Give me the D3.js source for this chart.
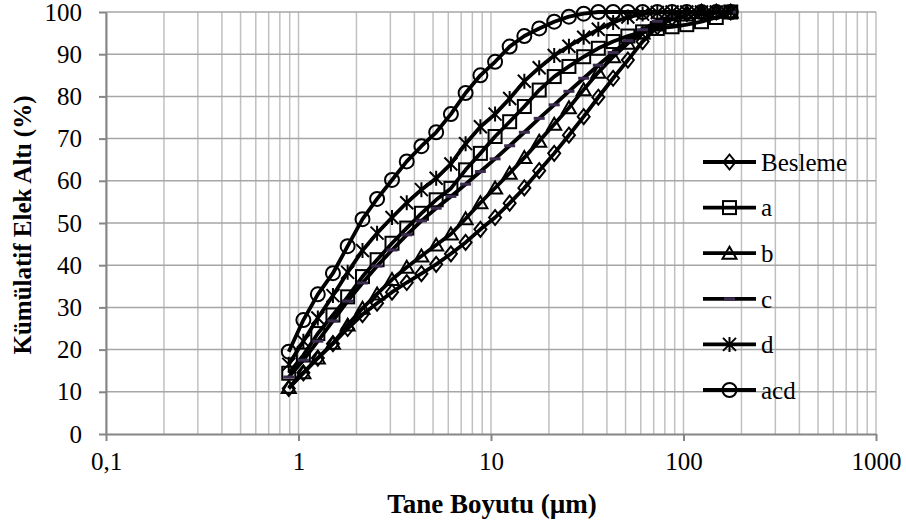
<!DOCTYPE html>
<html>
<head>
<meta charset="utf-8">
<script src="https://cdn.jsdelivr.net/npm/d3@7"></script>
<style>
  body { margin: 0; background: #fff; }
  text { font-family: "Times New Roman", "Liberation Serif", serif; fill: #000; }
</style>
</head>
<body>
<div id="chart"></div>
<script>
// particle sizes (µm) and cumulative passing (%) per sample
const sizes = [0.89, 1.06, 1.26, 1.51, 1.80, 2.15, 2.56, 3.06, 3.65, 4.35, 5.19, 6.19, 7.38, 8.81, 10.5, 12.5, 14.9, 17.8, 21.3, 25.4, 30.3, 36.1, 43.1, 51.4, 61.3, 73.1, 87.2, 104, 124, 148, 176];
const besleme = [10.8, 14.5, 18, 21.4, 25, 28.3, 31, 33.6, 35.9, 38, 40.2, 42.7, 45.4, 48.5, 51.3, 54.7, 58.3, 62.4, 66.5, 70.8, 75.2, 79.8, 84.3, 88.6, 93, 96.5, 98.6, 99.6, 100, 100, 100];
const a = [14.4, 18.7, 23.8, 28.2, 32.5, 37.3, 41.3, 45.2, 48.8, 52.3, 55.5, 58.2, 62.6, 66.5, 70.5, 74, 77.6, 81.5, 84.7, 87.1, 89.4, 91.4, 93, 94.3, 95.3, 96.1, 96.5, 97, 97.7, 98.7, 100];
const b = [11, 14.5, 18, 21.5, 25.8, 29.8, 33.2, 36.6, 39.5, 42.2, 44.8, 47.4, 51, 54.8, 58.3, 61.8, 65.5, 69.4, 73.4, 77.3, 81.6, 85.7, 89.4, 92.6, 95, 96.9, 98.3, 99.3, 99.8, 100, 100];
const c = [13.5, 17.5, 22, 26.8, 31.5, 35.8, 39.8, 43.6, 47.2, 50.5, 53.5, 56.3, 59.2, 62.2, 65.2, 68.3, 71.5, 74.8, 78, 81.2, 84.3, 87.4, 90.4, 93.2, 95.8, 97.8, 99, 99.6, 100, 100, 100];
const d = [16.5, 22, 27.5, 32.8, 38.3, 43.5, 47.6, 51.3, 54.8, 57.9, 60.6, 64, 68.8, 72.8, 75.8, 79.5, 83.6, 86.8, 89.7, 91.9, 94, 95.9, 97.5, 98.8, 99.5, 99.9, 100, 100, 100, 100, 100];
const acd = [19.5, 27, 33.1, 38.1, 44.5, 50.9, 55.7, 60.2, 64.6, 68.2, 71.5, 75.8, 80.8, 85, 88.2, 91.8, 94.3, 96.1, 97.7, 98.9, 99.6, 100, 100, 100, 100, 100, 100, 100, 100, 100, 100];

const seriesNames = ["Besleme", "a", "b", "c", "d", "acd"];
const seriesValues = [besleme, a, b, c, d, acd];
const seriesMarkers = ["diamond", "square", "triangle", "dash", "star", "circle"];

const xTicks = [0.1, 1, 10, 100, 1000];
const yTicks = [0, 10, 20, 30, 40, 50, 60, 70, 80, 90, 100];

const margin = { top: 12, right: 30, bottom: 90, left: 106 },
  width = 906 - margin.left - margin.right,
  height = 524 - margin.top - margin.bottom;

const svg = d3.select("#chart")
  .append("svg")
  .attr("width", 906)
  .attr("height", 524)
  .append("g")
  .attr("transform", `translate(${margin.left},${margin.top})`);

const x = d3.scaleLog().domain([0.1, 1000]).range([0, width]);
const y = d3.scaleLinear().domain([0, 100]).range([height, 0]);

// minor vertical grid lines (2..9 of every decade) and decade lines
const vGrid = [];
xTicks.forEach(t => { for (let k = 1; k < 10; k++) if (t * k <= 1000 && !(t === 1000 && k > 1)) vGrid.push(t * k); });
svg.append("g").selectAll("line")
  .data(vGrid)
  .join("line")
  .attr("x1", v => x(v)).attr("x2", v => x(v))
  .attr("y1", 0).attr("y2", height)
  .attr("stroke", "#c0c0c0")
  .attr("stroke-width", 1.5);

svg.append("g").selectAll("line")
  .data(yTicks.slice(1))
  .join("line")
  .attr("x1", 0).attr("x2", width)
  .attr("y1", v => y(v)).attr("y2", v => y(v))
  .attr("stroke", "#a6a6a6")
  .attr("stroke-width", 1.5);

// axes
const yAxis = svg.append("g")
  .call(d3.axisLeft(y).tickValues(yTicks).tickSize(7).tickSizeOuter(0).tickPadding(17));
const xAxis = svg.append("g")
  .attr("transform", `translate(0,${height})`)
  .call(d3.axisBottom(x).tickValues(xTicks).tickSize(7).tickSizeOuter(0).tickPadding(11)
    .tickFormat(v => v === 0.1 ? "0,1" : String(v)));
[xAxis, yAxis].forEach(ax => {
  ax.selectAll("path, line").attr("stroke", "#868686").attr("stroke-width", 2);
  ax.selectAll("text").style("font-size", "25px").style("font-family", "'Times New Roman', 'Liberation Serif', serif");
});

// marker drawing
function drawMarker(g, type) {
  if (type === "circle") {
    g.append("circle").attr("r", 7).attr("fill", "none").attr("stroke", "#000").attr("stroke-width", 2);
  } else if (type === "square") {
    g.append("rect").attr("x", -6.5).attr("y", -6.5).attr("width", 13).attr("height", 13)
      .attr("fill", "none").attr("stroke", "#000").attr("stroke-width", 2);
  } else if (type === "triangle") {
    g.append("path").attr("d", "M0,-6.5L7,5.5L-7,5.5Z")
      .attr("fill", "none").attr("stroke", "#000").attr("stroke-width", 2);
  } else if (type === "diamond") {
    g.append("path").attr("d", "M0,-7.5L6,0L0,7.5L-6,0Z")
      .attr("fill", "none").attr("stroke", "#000").attr("stroke-width", 2);
  } else if (type === "dash") {
    g.append("rect").attr("x", -5.5).attr("y", -1.5).attr("width", 11).attr("height", 3)
      .attr("fill", "#3b2b4f");
  } else if (type === "star") {
    g.append("path").attr("d", "M-6.5,-6.5L6.5,6.5M6.5,-6.5L-6.5,6.5M0,-7.5L0,7.5")
      .attr("fill", "none").attr("stroke", "#000").attr("stroke-width", 2);
  }
}

const line = d3.line()
  .x(p => x(p[0]))
  .y(p => y(p[1]));

seriesValues.forEach((vals, i) => {
  const pts = sizes.map((s, j) => [s, vals[j]]);
  svg.append("path")
    .datum(pts)
    .attr("fill", "none")
    .attr("stroke", "#000")
    .attr("stroke-width", 3.8)
    .attr("stroke-linejoin", "round")
    .attr("d", line);
  svg.append("g").selectAll("g")
    .data(pts)
    .join("g")
    .attr("transform", p => `translate(${x(p[0])},${y(p[1])})`)
    .each(function () { drawMarker(d3.select(this), seriesMarkers[i]); });
});

// legend
const legend = svg.append("g").attr("transform", `translate(${703 - margin.left},${162 - margin.top})`);
seriesNames.forEach((name, i) => {
  const row = legend.append("g").attr("transform", `translate(0,${i * 45.6})`);
  row.append("line").attr("x1", 0).attr("x2", 53).attr("y1", 0).attr("y2", 0)
    .attr("stroke", "#000").attr("stroke-width", 3.8);
  const m = row.append("g").attr("transform", "translate(26.5,0)");
  drawMarker(m, seriesMarkers[i]);
  row.append("text").attr("x", 58).attr("y", 0).attr("dy", "0.35em")
    .style("font-size", "25px").text(name);
});

// axis titles
svg.append("text")
  .attr("x", 492 - margin.left)
  .attr("y", 513 - margin.top)
  .style("text-anchor", "middle")
  .style("font-size", "27px")
  .style("font-weight", "bold")
  .text("Tane Boyutu (µm)");

svg.append("text")
  .attr("transform", "rotate(-90)")
  .attr("x", -(225 - margin.top))
  .attr("y", 31 - margin.left)
  .style("text-anchor", "middle")
  .style("font-size", "25px")
  .style("font-weight", "bold")
  .text("Kümülatif Elek Altı (%)");
</script>
</body>
</html>
